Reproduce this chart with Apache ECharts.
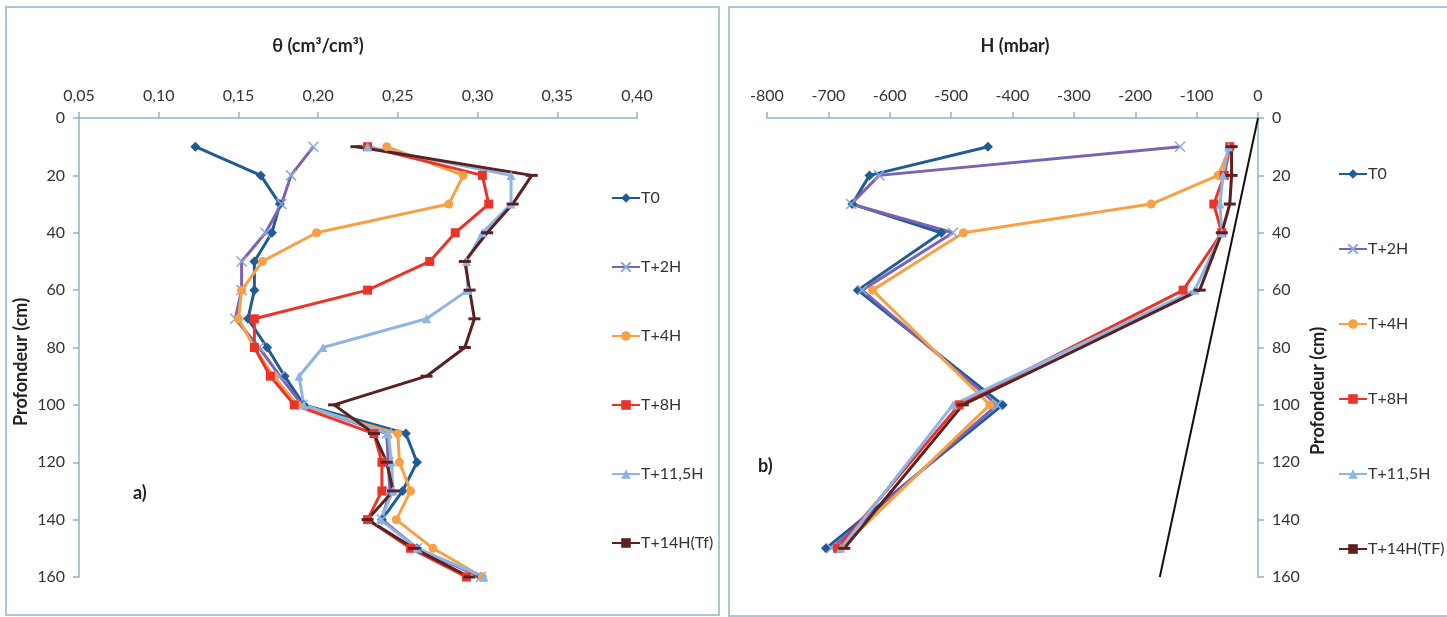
<!DOCTYPE html>
<html>
<head>
<meta charset="utf-8">
<script src="https://cdn.jsdelivr.net/npm/echarts@6/dist/echarts.min.js"></script>
<style>
  html, body { margin: 0; padding: 0; background: #fff; }
  .frame { position: absolute; border: 2px solid #a9c6d3; box-sizing: border-box; }
  .chart { position: absolute; top: 0; height: 617px; }
</style>
</head>
<body>
<div class="frame" style="left:5px;top:6px;width:715px;height:610px;"></div>
<div class="frame" style="left:728px;top:6px;width:722px;height:611px;"></div>
<div id="left" class="chart" style="left:0;width:724px;"></div>
<div id="right" class="chart" style="left:724px;width:723px;"></div>
<script>
// profondeurs (cm)
const depthTheta = [10, 20, 30, 40, 50, 60, 70, 80, 90, 100, 110, 120, 130, 140, 150, 160];
const depthH = [10, 20, 30, 40, 60, 100, 150];

const names = ['T0', 'T+2H', 'T+4H', 'T+8H', 'T+11,5H', 'T+14H(Tf)'];
const namesH = ['T0', 'T+2H', 'T+4H', 'T+8H', 'T+11,5H', 'T+14H(TF)'];

// teneur en eau θ (cm3/cm3)
const thetaT0 = [0.123, 0.164, 0.176, 0.171, 0.160, 0.160, 0.156, 0.168, 0.179, 0.191, 0.255, 0.262, 0.253, 0.240, 0.262, 0.302];
const thetaT2 = [0.197, 0.183, 0.177, 0.167, 0.152, 0.152, 0.148, 0.163, 0.176, 0.190, 0.243, 0.244, 0.245, 0.240, 0.262, 0.302];
const thetaT4 = [0.243, 0.291, 0.282, 0.199, 0.165, 0.152, 0.150, 0.160, 0.172, 0.187, 0.250, 0.251, 0.258, 0.249, 0.272, 0.303];
const thetaT8 = [0.231, 0.303, 0.307, 0.286, 0.270, 0.231, 0.160, 0.160, 0.170, 0.185, 0.235, 0.240, 0.240, 0.231, 0.258, 0.293];
const thetaT115 = [0.231, 0.321, 0.321, 0.303, 0.293, 0.294, 0.268, 0.203, 0.188, 0.191, 0.244, 0.246, 0.247, 0.239, 0.262, 0.304];
const thetaT14 = [0.224, 0.334, 0.322, 0.306, 0.292, 0.295, 0.298, 0.292, 0.268, 0.210, 0.235, 0.243, 0.247, 0.231, 0.260, 0.295];

// charge H (mbar)
const hT0 = [-440, -633, -661, -516, -652, -416, -704];
const hT2 = [-127, -617, -663, -497, -645, -425, -695];
const hT4 = [-45, -65, -174, -480, -628, -437, -680];
const hT8 = [-46, -55, -72, -59, -122, -487, -685];
const hT115 = [-48, -57, -62, -59, -103, -497, -680];
const hT14 = [-43, -43, -46, -59, -95, -481, -674];

// droite H = -z
const refH = [0, -160];
const refDepth = [0, 160];

const FONT = 'Lato, "Open Sans", sans-serif';
const AXIS_COLOR = '#8fb4c8';
const crossPath = 'path://M0,0L10,10M10,0L0,10';

const styles = [
  { color: '#1f5b94', symbol: 'diamond', symbolSize: 10 },
  { color: '#7b62b2', symbol: crossPath, symbolSize: 10, markColor: '#8aa8dc' },
  { color: '#f7a045', symbol: 'circle', symbolSize: 9 },
  { color: '#e9342a', symbol: 'rect', symbolSize: 9 },
  { color: '#8db4e2', symbol: 'triangle', symbolSize: 9 },
  { color: '#5b2020', symbol: 'rect', symbolSize: [12, 3] }
];

function makeSeries(name, xs, ys, st) {
  const s = {
    name: name,
    type: 'line',
    data: xs.map((v, i) => [v, ys[i]]),
    symbol: st.symbol,
    symbolSize: st.symbolSize,
    showAllSymbol: true,
    lineStyle: { color: st.color, width: 3 },
    itemStyle: { color: st.color },
    emphasis: { disabled: true },
    animation: false
  };
  if (st.markColor) {
    s.itemStyle = { color: st.markColor, borderColor: st.markColor, borderWidth: 1.5 };
  }
  return s;
}

function legendOpt(left, top, gap, data) {
  return {
    orient: 'vertical',
    left: left,
    top: top,
    itemWidth: 28,
    itemHeight: 12,
    itemGap: gap,
    data: data,
    textStyle: { color: '#333', fontSize: 16, fontFamily: FONT, padding: [0, 0, 0, -4] }
  };
}

function titleText(x, y, text, rotate) {
  return {
    type: 'text',
    x: x,
    y: y,
    rotation: rotate ? Math.PI / 2 : 0,
    style: { text: text, font: 'bold 18px ' + FONT, fill: '#222', align: 'center', verticalAlign: 'middle' }
  };
}

const axisLine = { show: true, onZero: false, lineStyle: { color: AXIS_COLOR, width: 1.5 } };
const axisTick = { show: true, inside: false, length: 6, lineStyle: { color: AXIS_COLOR, width: 1.5 } };
const axisLabel = { color: '#333', fontSize: 16, margin: 14 };

let leftChart = echarts.init(document.getElementById('left'));
let rightChart = echarts.init(document.getElementById('right'));

// a) teneur en eau
const thetaSets = [thetaT0, thetaT2, thetaT4, thetaT8, thetaT115, thetaT14];
leftChart.setOption({
  textStyle: { fontFamily: FONT },
  grid: { left: 79, top: 118, right: 87, bottom: 40 },
  legend: legendOpt(606, 185, 53, names),
  xAxis: {
    type: 'value',
    position: 'top',
    min: 0.05,
    max: 0.40,
    interval: 0.05,
    axisLine: axisLine,
    axisTick: axisTick,
    axisLabel: Object.assign({}, axisLabel, { formatter: v => v.toFixed(2).replace('.', ',') }),
    splitLine: { show: false }
  },
  yAxis: {
    type: 'value',
    inverse: true,
    min: 0,
    max: 160,
    interval: 20,
    axisLine: axisLine,
    axisTick: axisTick,
    axisLabel: axisLabel,
    splitLine: { show: false }
  },
  graphic: [
    titleText(318, 46, 'θ (cm³/cm³)', false),
    titleText(21, 362, 'Profondeur (cm)', true),
    { type: 'text', left: 133, top: 484, style: { text: 'a)', font: 'bold 18px ' + FONT, fill: '#222' } }
  ],
  series: thetaSets.map((arr, i) => makeSeries(names[i], arr, depthTheta, styles[i]))
});

// b) charge de pression
const hSets = [hT0, hT2, hT4, hT8, hT115, hT14];
const rightSeries = hSets.map((arr, i) => makeSeries(namesH[i], arr, depthH, styles[i]));
rightSeries.push({
  name: 'ref',
  type: 'line',
  data: refH.map((v, i) => [v, refDepth[i]]),
  symbol: 'none',
  lineStyle: { color: '#111', width: 2 },
  emphasis: { disabled: true },
  animation: false,
  z: 1
});

rightChart.setOption({
  textStyle: { fontFamily: FONT },
  grid: { left: 43, top: 118, right: 189, bottom: 40 },
  legend: legendOpt(609, 161, 59, namesH),
  xAxis: {
    type: 'value',
    position: 'top',
    min: -800,
    max: 0,
    interval: 100,
    axisLine: axisLine,
    axisTick: axisTick,
    axisLabel: axisLabel,
    splitLine: { show: false }
  },
  yAxis: {
    type: 'value',
    position: 'right',
    inverse: true,
    min: 0,
    max: 160,
    interval: 20,
    axisLine: axisLine,
    axisTick: axisTick,
    axisLabel: axisLabel,
    splitLine: { show: false }
  },
  graphic: [
    titleText(291, 46, 'H (mbar)', false),
    titleText(594, 391, 'Profondeur (cm)', true),
    { type: 'text', left: 34, top: 457, style: { text: 'b)', font: 'bold 18px ' + FONT, fill: '#222' } }
  ],
  series: rightSeries
});

window.addEventListener('resize', () => {
  leftChart.resize();
  rightChart.resize();
});
</script>
</body>
</html>
